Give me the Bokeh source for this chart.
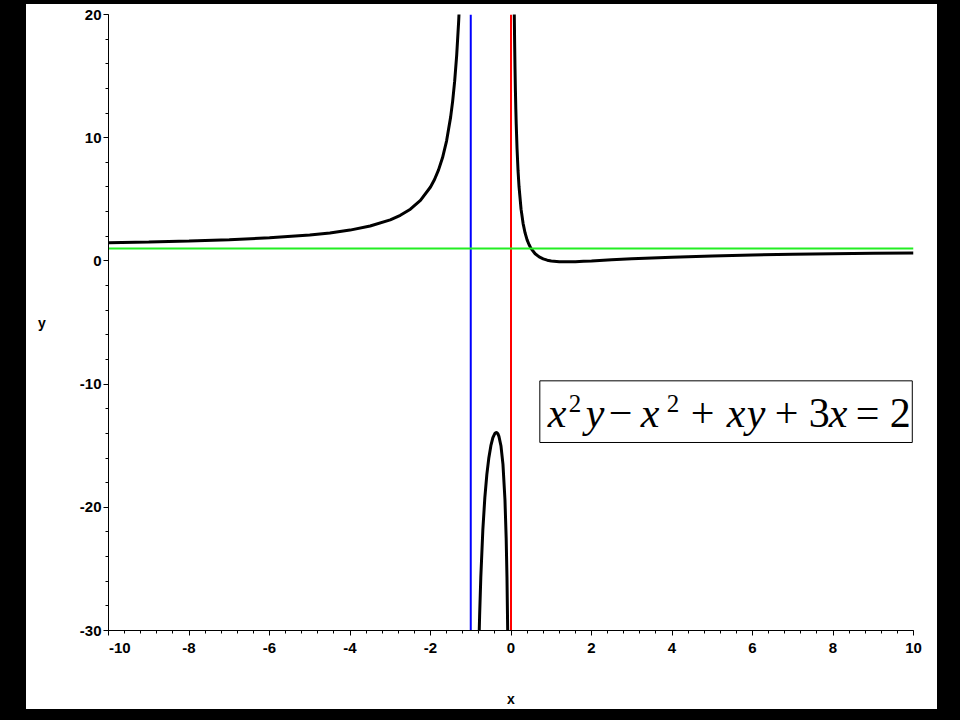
from bokeh.plotting import figure
from bokeh.models import FixedTicker, BoxAnnotation, Label
from bokeh.layouts import column
from bokeh.embed import file_html
from bokeh.resources import INLINE

# ---- data ----
# left branch (x < -1)
x_left = [-10, -9, -8, -7, -6, -5, -4.5, -4, -3.5, -3, -2.75, -2.5, -2.25, -2,
          -1.9, -1.8, -1.7, -1.6, -1.5, -1.45, -1.4, -1.35, -1.3, -1.28]
y_left = [1.47, 1.53, 1.61, 1.71, 1.87, 2.10, 2.27, 2.50, 2.83, 3.33, 3.70, 4.20, 4.91, 6.00,
          6.61, 7.39, 8.39, 9.75, 11.67, 12.95, 14.57, 16.66, 19.46, 20.87]
# middle branch (-1 < x < 0)
x_mid = [-0.8, -0.78, -0.75, -0.7, -0.65, -0.6, -0.55, -0.5, -0.45, -0.4, -0.375, -0.35,
         -0.325, -0.3, -0.25, -0.2, -0.15, -0.12, -0.1, -0.08]
y_mid = [-31.5, -28.84, -25.67, -21.86, -19.22, -17.33, -15.97, -15.0, -14.35, -14.0, -13.93, -13.95,
         -14.04, -14.24, -15.0, -16.5, -19.39, -22.48, -25.67, -30.52]
# right branch (x > 0)
x_right = [0.08, 0.09, 0.1, 0.11, 0.12, 0.13, 0.15, 0.175, 0.2, 0.25, 0.3, 0.35, 0.4, 0.45, 0.5,
           0.6, 0.7, 0.8, 0.9, 1.0, 1.2, 1.4, 1.6, 1.8, 2.0, 2.5, 3, 4, 5, 6, 7, 8, 9, 10]
y_right = [20.44, 17.72, 15.55, 13.78, 12.31, 11.08, 9.12, 7.32, 6.00, 4.20, 3.05, 2.27, 1.71, 1.31, 1.00,
           0.58, 0.33, 0.17, 0.06, 0.0, -0.06, -0.07, -0.06, -0.03, 0.0, 0.09, 0.17, 0.30, 0.40, 0.48,
           0.54, 0.58, 0.62, 0.65]

# asymptotes
vert_asym_blue = -1
vert_asym_red = 0
horiz_asym = 1

x_limits = (-10, 10)
y_limits = (-30, 20)
x_ticks = [-10, -8, -6, -4, -2, 0, 2, 4, 6, 8, 10]
y_ticks = [-30, -20, -10, 0, 10, 20]
x_minor = [round(-10 + 0.4 * i, 2) for i in range(51)]
y_minor = [-30 + 2 * i for i in range(26)]

# equation pieces: (text, italic?, superscript?, x offset px)
eq_pieces = [("x", True, False, 8), ("2", False, True, 29), ("y", True, False, 46),
             ("\u2212", False, False, 69), ("x", True, False, 101), ("2", False, True, 127),
             ("+", False, False, 151), ("x", True, False, 187), ("y", True, False, 207),
             ("+", False, False, 235), ("3", False, False, 269), ("x", True, False, 289),
             ("=", False, False, 316), ("2", False, False, 350)]
box_left, box_right, box_top, box_bottom = 0.716, 9.97, -9.735, -14.74
eq_baseline = -12.31
eq_sup_baseline = -11.6

# ---- figure ----
p = figure(width=911, height=705, x_range=x_limits, y_range=y_limits,
           output_backend="svg", toolbar_location=None,
           min_border_left=82, min_border_right=24, min_border_top=10, min_border_bottom=72,
           background_fill_color="white", border_fill_color="white")
p.outline_line_color = None
p.grid.visible = False

for ax in (p.xaxis[0], p.yaxis[0]):
    ax.axis_line_color = "black"
    ax.axis_line_width = 1
    ax.major_tick_line_color = "black"
    ax.minor_tick_line_color = "black"
    ax.major_tick_in = 0
    ax.minor_tick_in = 0
    ax.major_tick_out = 5
    ax.minor_tick_out = 3
    ax.major_label_text_font = "Liberation Sans"
    ax.major_label_text_font_style = "bold"
    ax.major_label_text_font_size = "15px"
    ax.major_label_text_color = "black"
    ax.axis_label_text_font = "Liberation Sans"
    ax.axis_label_text_font_style = "bold"
    ax.axis_label_text_font_size = "14px"
    ax.axis_label_text_color = "black"

p.xaxis.ticker = FixedTicker(ticks=x_ticks, minor_ticks=x_minor)
p.yaxis.ticker = FixedTicker(ticks=y_ticks, minor_ticks=y_minor)
p.xaxis.major_label_standoff = 3
p.yaxis.major_label_standoff = 2
x_labels = {t: str(t) for t in x_ticks}
x_labels[x_ticks[0]] = "\u2003\u2002" + str(x_ticks[0])
p.xaxis.major_label_overrides = x_labels
p.yaxis.major_label_overrides = {t: str(t) for t in y_ticks}
p.xaxis.axis_label = "x"
p.xaxis.axis_label_standoff = 32
p.yaxis.axis_label = "y"
p.yaxis.axis_label_orientation = "horizontal"
p.yaxis.axis_label_standoff = 31

# curves
p.line(x_left, y_left, line_color="black", line_width=3)
p.line(x_mid, y_mid, line_color="black", line_width=3)
p.line(x_right, y_right, line_color="black", line_width=3)

# asymptotes
p.line([vert_asym_blue, vert_asym_blue], list(y_limits), line_color="#0000ff", line_width=2)
p.line([vert_asym_red, vert_asym_red], list(y_limits), line_color="#ff0000", line_width=2)
p.line(list(x_limits), [horiz_asym, horiz_asym], line_color="#22ee22", line_width=2)

# equation box
p.add_layout(BoxAnnotation(left=box_left, right=box_right, top=box_top, bottom=box_bottom,
                           fill_color="white", fill_alpha=1, line_color="black", line_width=1,
                           line_alpha=1))
for txt, ital, sup, dx in eq_pieces:
    p.add_layout(Label(x=box_left, y=eq_sup_baseline if sup else eq_baseline, text=txt,
                       x_offset=dx, text_align="left", text_baseline="alphabetic",
                       text_font="Liberation Serif",
                       text_font_style="italic" if ital else "normal",
                       text_font_size="25px" if sup else "42px", text_color="black"))

inner = column(p, styles={"background-color": "white"})
inner.margin = (4, 23, 11, 26)
layout = column(inner, styles={"background-color": "black"})
open("out.html", "w").write(file_html(layout, INLINE))
